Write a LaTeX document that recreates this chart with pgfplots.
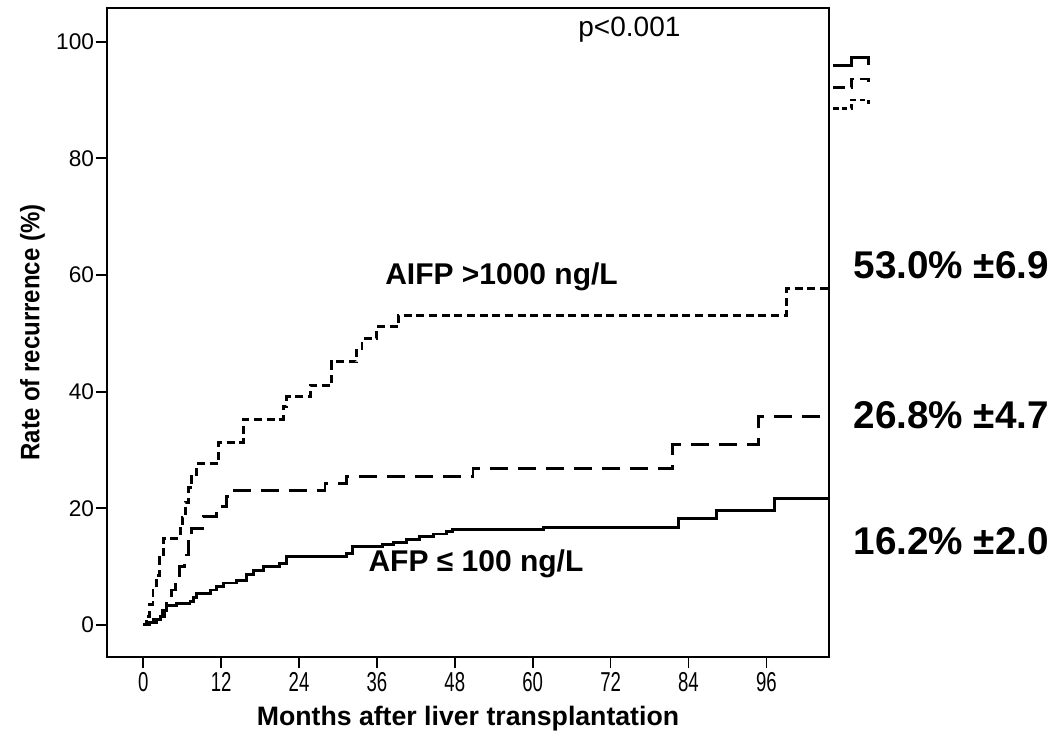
\documentclass[border=0pt]{standalone}
\usepackage{fontspec}
\setmainfont{Liberation Sans}
\newfontfamily\xtickfont[FakeStretch=0.68]{Liberation Sans}
\newfontfamily\labfont[FakeStretch=0.9]{Liberation Sans}
\usepackage{pgfplots}
\pgfplotsset{compat=1.18}
\begin{document}
\begin{tikzpicture}
\begin{axis}[
  scale only axis,
  width=541.5pt, height=486.75pt,
  xmin=-5.59, xmax=105.65,
  ymin=-5.49, ymax=105.78,
  xtick={0,12,24,36,48,60,72,84,96},
  ytick={0,20,40,60,80,100},
  tick align=outside,
  tick pos=left,
  major tick length=8.5pt,
  every tick/.style={black, line width=1.3pt},
  axis line style={black, line width=1.4pt},
  /pgf/number format/assume math mode=true,
  xticklabel style={font=\xtickfont\fontsize{20.5}{24}\selectfont, inner sep=2.5pt},
  yticklabel style={font=\fontsize{17}{20}\selectfont, inner sep=1pt},
  xlabel={Months after liver transplantation},
  ylabel={Rate of recurrence (\%)},
  xlabel style={font=\bfseries\fontsize{20}{24}\selectfont, yshift=-5.5pt},
  ylabel style={font=\labfont\bfseries\fontsize{20}{24}\selectfont, yshift=4pt},
  clip=false,
]
\path (rel axis cs:-0.1482,-0.1248) rectangle (rel axis cs:1.3158,1.0123);

% AFP <= 100 (solid)
\addplot[const plot, black, line width=2.2pt] coordinates {
(0,0) (0.5,0.5) (1.5,1.0) (2.6,1.4) (3.2,2.5) (3.6,3.4) (5.1,3.7) (7.2,4.0)
(7.8,4.7) (8.2,5.4) (10.3,6.0) (11.3,6.6) (12.3,7.2) (14.4,7.7) (15.9,8.6)
(17,9.3) (18.5,10.0) (21.0,10.6) (22.1,11.8) (31.3,12.3) (32.3,13.4)
(36.8,13.8) (38.5,14.2) (40.6,14.6) (42.6,15.1) (44.7,15.6) (46.7,16.0)
(47.7,16.3) (61.6,16.7) (82.4,18.3) (88.3,19.7) (97.3,21.7) (105.65,21.7)
};

% middle group (long dashed)
\addplot[const plot, black, line width=2.2pt, dash pattern=on 13.5pt off 7.5pt] coordinates {
(0,0) (1,0.5) (2,1.0) (3,2.5) (3.6,5.1) (4.4,6.0) (5.0,8.0) (5.6,10.0)
(6.3,12.0) (7.0,14.6) (7.5,16.6) (9.2,18.6) (11.3,20.3) (12.8,22.0)
(14.0,23.1) (28.0,24.3) (31.3,25.4) (50.8,26.9) (81.6,30.9) (94.8,35.8)
(105.65,35.8)
};

% AFP > 1000 (short dashed)
\addplot[const plot, black, line width=2.2pt, dash pattern=on 6pt off 3.5pt] coordinates {
(0,0) (0.5,1.5) (1.0,3.5) (1.5,6.0) (2.0,8.5) (2.5,11.5) (3.1,14.9)
(5.7,16.5) (6.0,18.5) (6.5,21.0) (7.0,23.5) (7.5,25.5) (8.2,27.7)
(11.6,31.3) (15.4,35.3) (21.6,37.4) (22.1,39.1) (25.7,41.1) (29.0,45.1)
(32.9,47.1) (33.7,49.1) (36.0,51.1) (39.3,53.1) (99.1,57.7) (105.65,57.7)
};

% legend-like snippets at the top right
\addplot[black, line width=2.2pt] coordinates {
(106.3,95.9) (109.1,95.9) (109.1,97.3) (111.7,97.3) (111.7,96.0)
};
\addplot[black, line width=2.2pt, dash pattern=on 9pt off 4pt] coordinates {
(106.3,92.2) (109.1,92.2) (109.1,93.6) (111.7,93.6) (111.7,92.9)
};
\addplot[black, line width=2.2pt, dash pattern=on 4pt off 2.5pt] coordinates {
(106.3,88.6) (109.1,88.6) (109.1,90.0) (111.7,90.0) (111.7,89.3)
};

\node[anchor=base, inner sep=0pt, font=\fontsize{21}{24}\selectfont] at (axis cs:74.9,100.9) {p<0.001};
\node[anchor=base west, inner sep=0pt, font=\bfseries\fontsize{22.5}{26}\selectfont] at (axis cs:37.24,58.3) {AIFP >1000 ng/L};
\node[anchor=base west, inner sep=0pt, font=\bfseries\fontsize{22.5}{26}\selectfont] at (axis cs:34.67,9.14) {AFP ≤ 100 ng/L};
\node[anchor=base west, inner sep=0pt, font=\bfseries\fontsize{29}{33}\selectfont] at (axis cs:109.4,59.4) {53.0\% ±6.9};
\node[anchor=base west, inner sep=0pt, font=\bfseries\fontsize{29}{33}\selectfont] at (axis cs:109.4,33.7) {26.8\% ±4.7};
\node[anchor=base west, inner sep=0pt, font=\bfseries\fontsize{29}{33}\selectfont] at (axis cs:109.4,12.0) {16.2\% ±2.0};
\end{axis}
\end{tikzpicture}
\end{document}
